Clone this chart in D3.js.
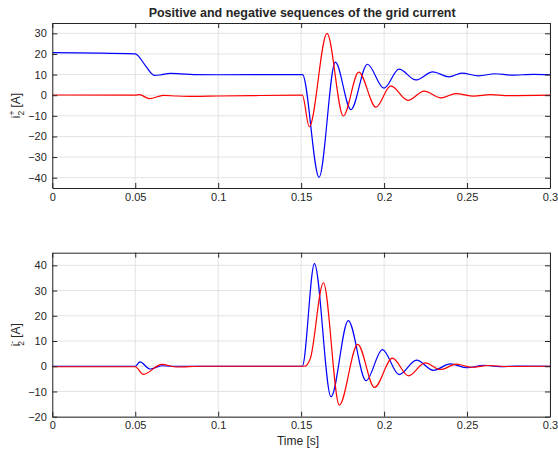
<!DOCTYPE html>
<html>
<head>
<meta charset="utf-8">
<script src="https://cdn.jsdelivr.net/npm/d3@7"></script>
<style>
  body { margin: 0; background: #fff; }
  text { font-family: "Liberation Sans", Arial, sans-serif; fill: #262626; }
</style>
</head>
<body>
<svg id="chart" width="558" height="452"></svg>
<script>
// readings from the picture: [time s, current A]
var posBlue = [[0, 20.6], [0.05, 20.0], [0.051, 19.6], [0.056, 14.5], [0.0615, 9.6], [0.065, 9.8], [0.071, 10.6],
  [0.078, 10.3], [0.085, 10.0], [0.1, 9.9], [0.15, 10.0], [0.1508, 10.0], [0.1608, -39.8], [0.1706, 16],
  [0.180, -7], [0.1899, 15], [0.1999, 3.4], [0.209, 12.6], [0.2192, 7.4], [0.2293, 11.3], [0.2391, 8.9],
  [0.2468, 10.7], [0.257, 9.4], [0.267, 10.4], [0.277, 9.7], [0.29, 10.1], [0.3, 9.9]];
var posRed = [[0, 0.1], [0.05, 0], [0.0525, 0.3], [0.0585, -1.7], [0.067, -0.1], [0.075, -0.4], [0.085, -0.6],
  [0.1, -0.4], [0.12, -0.2], [0.15, 0], [0.1507, 0], [0.1549, -15.3], [0.1656, 30], [0.1754, -10.1],
  [0.1847, 11.2], [0.1951, -5.8], [0.204, 4.5], [0.2144, -2.5], [0.2241, 2], [0.2343, -1.3], [0.2432, 0.8],
  [0.254, -0.5], [0.264, 0.3], [0.275, -0.2], [0.3, 0]];
var negBlue = [[0, 0], [0.05, 0], [0.0528, 1.7], [0.059, -1.1], [0.066, 0.2], [0.072, 0], [0.15, 0],
  [0.1507, 0], [0.158, 40.7], [0.168, -12.1], [0.1784, 18.1], [0.1891, -5.7], [0.199, 6.6], [0.209, -3.3],
  [0.2196, 2.4], [0.2297, -1.6], [0.24, 0.9], [0.25, -0.6], [0.26, 0.4], [0.27, -0.2], [0.28, 0.1], [0.3, 0]];
var negRed = [[0, -0.2], [0.05, -0.2], [0.0549, -3.2], [0.066, 0.7], [0.075, -0.3], [0.09, 0], [0.15, 0],
  [0.152, 0], [0.1555, 3], [0.1634, 33.1], [0.173, -15.4], [0.1841, 8.7], [0.1942, -8.4], [0.205, 3.2],
  [0.2147, -3.8], [0.2247, 1.3], [0.234, -1.3], [0.2435, 0.8], [0.253, -0.4], [0.263, 0.3], [0.275, -0.1], [0.3, 0]];

var xTicks = [0, 0.05, 0.1, 0.15, 0.2, 0.25, 0.3];
var xTickLabels = ["0", "0.05", "0.1", "0.15", "0.2", "0.25", "0.3"];
var posYTicks = [-40, -30, -20, -10, 0, 10, 20, 30];
var negYTicks = [-20, -10, 0, 10, 20, 30, 40];

var svg = d3.select("#chart");
var left = 52.3, right = 550;

var x = d3.scaleLinear().domain([0, 0.3]).range([left, right]);

function drawPanel(top, bottom, yDomain, yTicks, series, sup) {
  var y = d3.scaleLinear().domain(yDomain).range([bottom, top]);
  var g = svg.append("g");

  // grid
  g.selectAll(".gx").data(xTicks).enter().append("line")
    .attr("x1", d => x(d)).attr("x2", d => x(d)).attr("y1", top).attr("y2", bottom)
    .attr("stroke", "#e3e3e3").attr("stroke-width", 1);
  g.selectAll(".gy").data(yTicks).enter().append("line")
    .attr("x1", left).attr("x2", right).attr("y1", d => y(d)).attr("y2", d => y(d))
    .attr("stroke", "#e3e3e3").attr("stroke-width", 1);

  // curves
  var line = d3.line().x(d => x(d[0])).y(d => y(d[1])).curve(d3.curveMonotoneX);
  series.forEach(s => {
    g.append("path").datum(s.data).attr("d", line)
      .attr("fill", "none").attr("stroke", s.color).attr("stroke-width", 1.2);
  });

  // axes, ticks pointing inside
  var fmt = d => xTickLabels[xTicks.indexOf(d)];
  var ax = [
    g.append("g").attr("transform", "translate(0," + bottom + ")")
      .call(d3.axisBottom(x).tickValues(xTicks).tickFormat(fmt).tickSizeInner(-5).tickSizeOuter(0).tickPadding(5)),
    g.append("g").attr("transform", "translate(0," + top + ")")
      .call(d3.axisTop(x).tickValues(xTicks).tickFormat("").tickSizeInner(-5).tickSizeOuter(0)),
    g.append("g").attr("transform", "translate(" + left + ",0)")
      .call(d3.axisLeft(y).tickValues(yTicks).tickSizeInner(-5).tickSizeOuter(0).tickPadding(5.5)),
    g.append("g").attr("transform", "translate(" + right + ",0)")
      .call(d3.axisRight(y).tickValues(yTicks).tickFormat("").tickSizeInner(-5).tickSizeOuter(0))
  ];
  ax.forEach(a => {
    a.selectAll("path").attr("stroke", "#262626").attr("stroke-width", 1);
    a.selectAll("line").attr("stroke", "#262626");
    a.selectAll("text").attr("font-size", 11).attr("fill", "#262626")
      .attr("font-family", "Liberation Sans, Arial, sans-serif");
  });

  // y label, i with stacked super/subscript
  var cy = (top + bottom) / 2;
  var t = svg.append("text").attr("transform", "translate(19.5," + cy + ") rotate(-90)")
    .attr("text-anchor", "middle").attr("font-size", 12);
  t.append("tspan").text("i");
  t.append("tspan").text(sup).attr("font-size", 8.5).attr("dy", -4.5);
  t.append("tspan").text("2").attr("font-size", 8.5).attr("dx", -5).attr("dy", 8.5);
  t.append("tspan").text(" [A]").attr("dy", -4);
}

drawPanel(23, 188, [-45, 35], posYTicks,
  [{ data: posBlue, color: "#0000ff" }, { data: posRed, color: "#ff0000" }], "+");
drawPanel(252.7, 416.7, [-20, 45], negYTicks,
  [{ data: negBlue, color: "#0000ff" }, { data: negRed, color: "#ff0000" }], "-");

svg.append("text").attr("x", (left + right) / 2 + 1).attr("y", 17).attr("text-anchor", "middle")
  .attr("font-size", 12.5).attr("font-weight", "bold").attr("fill", "#000")
  .text("Positive and negative sequences of the grid current");

svg.append("text").attr("x", 298).attr("y", 445).attr("text-anchor", "middle")
  .attr("font-size", 12).text("Time [s]");
</script>
</body>
</html>
